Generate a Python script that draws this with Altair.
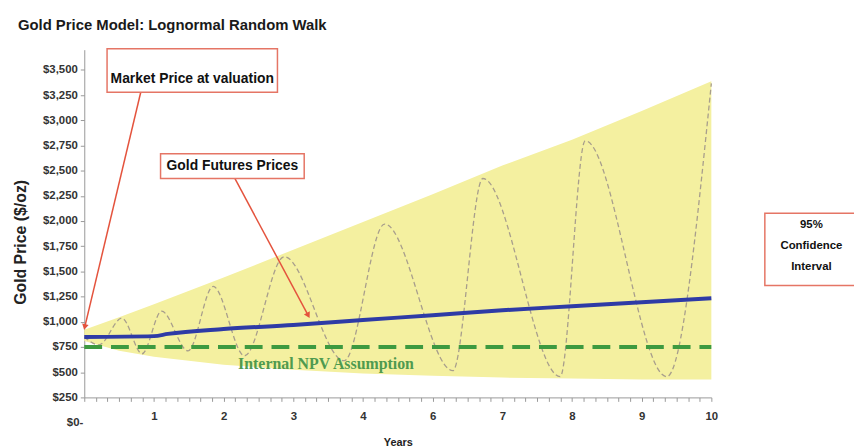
import json
import altair as alt
import pandas as pd

TITLE = "Gold Price Model: Lognormal Random Walk"

# x is measured in axis slots: 0 = valuation date, 1..9 = the labelled years
X_LABELS = ["1", "2", "3", "4", "6", "7", "8", "9", "10"]
Y_TICKS = [250, 500, 750, 1000, 1250, 1500, 1750, 2000, 2250, 2500, 2750, 3000, 3250, 3500]

# 95% confidence band of the lognormal random walk
BAND_T = [0, 0.5, 1, 2, 3, 4, 5, 6, 7, 8, 9]
BAND_UPPER = [920, 1046, 1174, 1439, 1715, 1990, 2265, 2550, 2806, 3091, 3386]
BAND_LOWER = [810, 712, 653, 574, 525, 486, 466, 447, 437, 427, 427]

# gold futures prices (blue)
FWD_T = [0, 1.0, 1.2, 2, 3, 4, 5, 6, 7, 8, 9]
FWD_PRICE = [850, 858, 880, 928, 968, 1017, 1066, 1115, 1154, 1194, 1233]

# illustrative simulated path (grey dashed), turning points
PATH_T = [0, 0.21, 0.54, 0.83, 1.11, 1.49, 1.85, 2.30, 2.87, 3.73, 4.31, 5.29, 5.72, 6.83, 7.19, 8.36, 9.0]
PATH_PRICE = [850, 771, 1036, 683, 1105, 712, 1351, 663, 1646, 614, 1970, 515, 2422, 456, 2796, 456, 3366]

# internal NPV assumption (green dashed)
NPV_T = [0, 9]
NPV_PRICE = [750, 750]

band_df = pd.DataFrame({"t": BAND_T, "upper": BAND_UPPER, "lower": BAND_LOWER})
fwd_df = pd.DataFrame({"t": FWD_T, "v": FWD_PRICE})
path_df = pd.DataFrame({"t": PATH_T, "v": PATH_PRICE})
npv_df = pd.DataFrame({"t": NPV_T, "v": NPV_PRICE})
zero_df = pd.DataFrame({"t": [0], "v": [0], "label": ["$0-"]})
one = pd.DataFrame({"k": [0]})

FONT = "Liberation Sans"
RED = "#e4533d"
BOXRED = "#e57565"

xs = alt.Scale(domain=[0, 9], nice=False, zero=False)
ys = alt.Scale(domain=[250, 3700], nice=False, zero=False)

x_ticks = [round(k / 6, 4) for k in range(0, 55)]
label_expr = ("abs(datum.value - round(datum.value)) < 0.01 && datum.value >= 1 ? "
              + json.dumps(X_LABELS) + "[round(datum.value) - 1] : ''")

x_axis = alt.Axis(values=x_ticks, labelExpr=label_expr, tickSize=4, labelPadding=9,
                  domainColor="#999999", tickColor="#999999", grid=False,
                  labelFont=FONT, labelFontWeight="bold", labelFontSize=11.5, labelColor="#333333",
                  labelOverlap=False, labelFlush=False,
                  title="Years", titleFont=FONT, titleFontSize=11, titleFontWeight="bold",
                  titleColor="#222222", titleY=46, titleBaseline="middle")
y_axis = alt.Axis(values=Y_TICKS, format="$,.0f", tickSize=4, labelPadding=3,
                  domainColor="#999999", tickColor="#999999", grid=False,
                  labelFont=FONT, labelFontWeight="bold", labelFontSize=11.5, labelColor="#333333",
                  labelOverlap=False,
                  title="Gold Price ($/oz)", titleFont=FONT, titleFontSize=16, titleFontWeight="bold",
                  titleColor="#222222", titleX=-64, titleY=194, titleAlign="center",
                  titleBaseline="middle", titleAngle=270)

X = alt.X("t:Q", scale=xs, axis=x_axis)

band = alt.Chart(band_df).mark_area(color="#f4f0a0", opacity=1).encode(
    x=X,
    y=alt.Y("upper:Q", scale=ys, axis=y_axis),
    y2="lower:Q",
)

path = alt.Chart(path_df).mark_line(color="#a89e8c", strokeWidth=1.3, strokeDash=[5, 3],
                                    interpolate="monotone").encode(
    x=X, y=alt.Y("v:Q", scale=ys, axis=y_axis),
)

npv = alt.Chart(npv_df).mark_line(color="#3d9a40", strokeWidth=4, strokeDash=[18, 9]).encode(
    x=X, y=alt.Y("v:Q", scale=ys, axis=y_axis),
)

fwd = alt.Chart(fwd_df).mark_line(color="#2e3ba6", strokeWidth=4, interpolate="monotone").encode(
    x=X, y=alt.Y("v:Q", scale=ys, axis=y_axis),
)

zero_lbl = alt.Chart(zero_df).mark_text(align="right", baseline="middle", dx=-1, font=FONT,
                                        fontWeight="bold", fontSize=11.5, color="#333333").encode(
    x=X, y=alt.Y("v:Q", scale=ys, axis=y_axis),
    text="label:N",
)

npv_text = alt.Chart(one).mark_text(font="Liberation Serif", fontWeight="bold", fontSize=16,
                                    color="#4f9a4f", align="center", baseline="middle").encode(
    x=alt.value(244), y=alt.value(317), text=alt.value("Internal NPV Assumption"))


def box(x1, x2, y1, y2):
    return alt.Chart(one).mark_rect(fill="white", stroke=BOXRED, strokeWidth=1.5).encode(
        x=alt.value(x1), x2=alt.value(x2), y=alt.value(y1), y2=alt.value(y2))


def label(x, y, txt, size=14, **kw):
    return alt.Chart(one).mark_text(font=FONT, fontWeight="bold", fontSize=size, color="#111111",
                                    align="center", baseline="middle", **kw).encode(
        x=alt.value(x), y=alt.value(y), text=alt.value(txt))


def arrow(x1, y1, x2, y2, ang, hx, hy):
    line = alt.Chart(one).mark_rule(color=RED, strokeWidth=1.5).encode(
        x=alt.value(x1), y=alt.value(y1), x2=alt.value(hx), y2=alt.value(hy))
    head = alt.Chart(one).mark_point(shape="triangle", filled=True, color=RED, opacity=1,
                                     size=45, angle=ang).encode(x=alt.value(hx), y=alt.value(hy))
    return [line, head]


title = alt.Chart(one).mark_text(font=FONT, fontWeight="bold", fontSize=15, color="#1a1a1a",
                                 align="left", baseline="middle").encode(
    x=alt.value(-67), y=alt.value(-25), text=alt.value(TITLE))

layers = [band, path, npv, fwd, zero_lbl, npv_text]
layers += arrow(57, 43, 0, 282, 193.5, 0.7, 279)
layers += arrow(152, 130, 227, 270, 151.5, 225.6, 267.4)
layers += [box(23, 195, -1, 43), label(109, 30, "Market Price at valuation")]
layers += [box(77, 222, 105, 130), label(149.5, 117.5, "Gold Futures Prices")]
layers += [box(687, 800, 165, 238),
           label(734, 177, "95%\nConfidence\nInterval", size=11.5, lineBreak="\n", lineHeight=21)]
layers += [title]

chart = alt.layer(*layers).properties(
    width=633, height=351,
    padding={"left": 77, "top": 40, "right": 144, "bottom": 49},
    autosize=alt.AutoSizeParams(type="none"),
).configure_view(strokeWidth=0)

chart.save("out.html", embed_options={"renderer": "svg", "actions": False})
